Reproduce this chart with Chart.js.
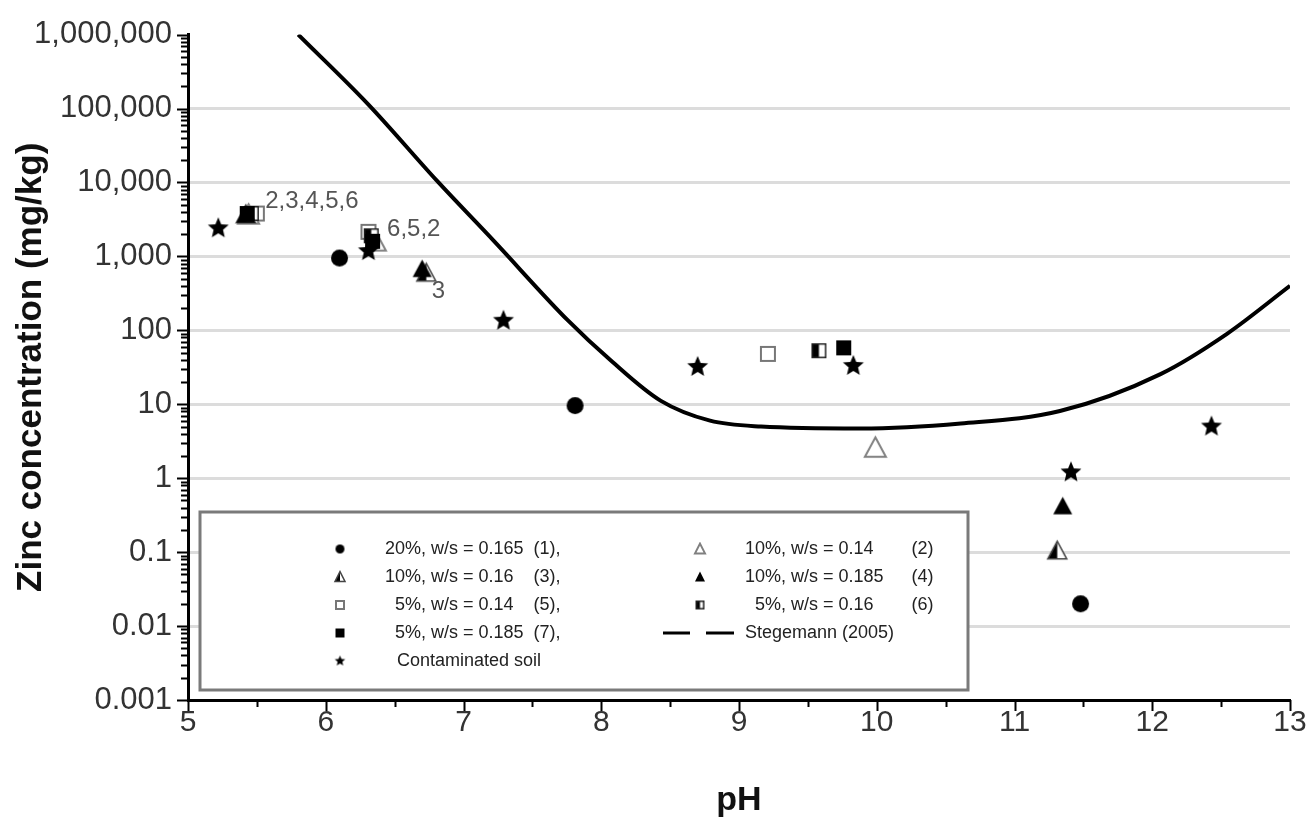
<!DOCTYPE html>
<html>
<head>
<meta charset="utf-8">
<script src="https://cdn.jsdelivr.net/npm/chart.js@4.4.1/dist/chart.umd.min.js"></script>
<style>
html, body { margin: 0; padding: 0; background: #fff; }
#wrap { width: 1312px; height: 831px; }
</style>
</head>
<body>
<div id="wrap"><canvas id="graph"></canvas></div>
<script>
// values (pH, zinc mg/kg)
const ph_1 = [6.1, 7.81, 11.48];
const zn_1 = [950, 9.6, 0.02];
const ph_2 = [5.44, 6.36, 9.99];
const zn_2 = [3700, 1600, 2.6];
const ph_3 = [5.42, 6.73, 11.31];
const zn_3 = [3700, 600, 0.105];
const ph_4 = [5.42, 6.7, 11.35];
const zn_4 = [3700, 680, 0.42];
const ph_5 = [5.5, 6.31, 9.21];
const zn_5 = [3800, 2150, 48];
const ph_6 = [5.46, 6.33, 9.58];
const zn_6 = [3800, 1900, 53];
const ph_7 = [5.43, 6.34, 9.76];
const zn_7 = [3800, 1600, 58];
const ph_soil = [5.22, 6.31, 7.29, 8.7, 9.83, 11.41, 12.43];
const zn_soil = [2400, 1180, 135, 32, 33, 1.2, 5.0];
const ph_steg = [5.8, 6.31, 6.81, 7.22, 7.76, 8.07, 8.43, 8.79, 9.16, 9.88, 10.61, 11.33, 12.06, 12.54, 13.0];
const zn_steg = [1000000, 113000, 10400, 1620, 135, 39, 11.2, 6.0, 5.0, 4.7, 5.5, 8.1, 25.6, 89, 400];

const yTicks = [0.001, 0.01, 0.1, 1, 10, 100, 1000, 10000, 100000, 1000000];
const yTickLabels = ['0.001', '0.01', '0.1', '1', '10', '100', '1,000', '10,000', '100,000', '1,000,000'];
const xTicks = [5, 6, 7, 8, 9, 10, 11, 12, 13];

const noteText = ['2,3,4,5,6', '6,5,2', '3'];
const notePh = [5.56, 6.445, 6.77];
const noteZn = [5570, 2330, 340];

const legendBody = ['20%, w/s = 0.165', '10%, w/s = 0.14', '10%, w/s = 0.16', '10%, w/s = 0.185',
  '5%, w/s = 0.14', '5%, w/s = 0.16', '5%, w/s = 0.185', 'Stegemann (2005)', 'Contaminated soil'];
const legendTag = ['(1),', '(2)', '(3),', '(4)', '(5),', '(6)', '(7),', '', ''];

// marker pictures
function makeMarker(kind, s) {
  const pad = 2;
  const c = document.createElement('canvas');
  c.width = c.height = Math.ceil(s + pad * 2);
  const g = c.getContext('2d');
  const m = c.width / 2, r = s / 2;
  const h = s * 0.88;
  const tri = () => {
    g.beginPath();
    g.moveTo(m, m - h / 2 - 1);
    g.lineTo(m + r, m + h / 2);
    g.lineTo(m - r, m + h / 2);
    g.closePath();
  };
  const sq = () => { g.beginPath(); g.rect(m - r, m - r, s, s); };
  if (kind == 'circle') {
    g.beginPath(); g.arc(m, m, r, 0, Math.PI * 2); g.fillStyle = '#000'; g.fill();
  } else if (kind == 'tri') {
    tri(); g.fillStyle = '#000'; g.fill();
  } else if (kind == 'triOpen') {
    tri(); g.fillStyle = '#fff'; g.fill(); g.strokeStyle = '#808080'; g.lineWidth = 2; g.stroke();
  } else if (kind == 'triHalf') {
    tri(); g.fillStyle = '#fff'; g.fill();
    g.save(); g.beginPath(); g.rect(0, 0, m, c.height); g.clip(); tri(); g.fillStyle = '#000'; g.fill(); g.restore();
    tri(); g.strokeStyle = '#444'; g.lineWidth = 1.5; g.stroke();
  } else if (kind == 'sq') {
    sq(); g.fillStyle = '#000'; g.fill();
  } else if (kind == 'sqOpen') {
    g.beginPath(); g.rect(m - r + 1, m - r + 1, s - 2, s - 2);
    g.fillStyle = '#fff'; g.fill(); g.strokeStyle = '#777'; g.lineWidth = 2; g.stroke();
  } else if (kind == 'sqHalf') {
    sq(); g.fillStyle = '#fff'; g.fill();
    g.fillStyle = '#000'; g.fillRect(m - r, m - r, s * 0.5, s);
    g.beginPath(); g.rect(m - r + 0.75, m - r + 0.75, s - 1.5, s - 1.5);
    g.strokeStyle = '#222'; g.lineWidth = 1.5; g.stroke();
  } else if (kind == 'star') {
    g.beginPath();
    for (let i = 0; i < 10; i++) {
      const a = -Math.PI / 2 + i * Math.PI / 5;
      const rr = i % 2 ? r * 0.45 : r;
      g.lineTo(m + rr * Math.cos(a), m + rr * Math.sin(a));
    }
    g.closePath(); g.fillStyle = '#000'; g.fill();
  }
  return c;
}

const kinds = ['circle', 'triOpen', 'triHalf', 'tri', 'sqOpen', 'sqHalf', 'sq', 'line', 'star'];
const plotSize = { circle: 17, triOpen: 21, triHalf: 19, tri: 19, sqOpen: 16, sqHalf: 15, sq: 15, star: 22 };
const legSize = { circle: 9, triOpen: 10, triHalf: 10, tri: 10, sqOpen: 10, sqHalf: 9, sq: 9, star: 11 };
// lower number is painted on top
const drawOrder = { circle: 1, triOpen: 4, triHalf: 3, tri: 2, sqOpen: 4, sqHalf: 3, sq: 2, star: 1 };

function pts(xs, ys) { return xs.map((x, i) => ({ x: x, y: ys[i] })); }

const series = [
  [ph_1, zn_1], [ph_2, zn_2], [ph_3, zn_3], [ph_4, zn_4],
  [ph_5, zn_5], [ph_6, zn_6], [ph_7, zn_7], null, [ph_soil, zn_soil]
];

const datasets = [];
series.forEach((sr, i) => {
  if (!sr) return;
  datasets.push({
    type: 'scatter',
    label: legendBody[i],
    data: pts(sr[0], sr[1]),
    pointStyle: makeMarker(kinds[i], plotSize[kinds[i]]),
    pointRadius: 9,
    order: drawOrder[kinds[i]]
  });
});
datasets.push({
  type: 'line',
  label: 'Stegemann (2005)',
  data: pts(ph_steg, zn_steg),
  borderColor: '#000',
  borderWidth: 4,
  pointRadius: 0,
  cubicInterpolationMode: 'monotone',
  fill: false,
  order: 6
});

const tickMarks = {
  id: 'tickMarks',
  afterDraw(chart) {
    const ctx = chart.ctx, x = chart.scales.x, y = chart.scales.y;
    const left = chart.chartArea.left, bottom = chart.chartArea.bottom;
    ctx.save();
    ctx.strokeStyle = '#000';
    ctx.lineWidth = 2;
    ctx.beginPath();
    for (let d = -3; d <= 6; d++) {
      for (let k = 1; k <= 9; k++) {
        const v = k * Math.pow(10, d);
        if (v > 1000000 * 1.001) break;
        const py = Math.round(y.getPixelForValue(v)) + 0.5;
        const len = k == 1 ? 11 : 7;
        ctx.moveTo(left - len, py); ctx.lineTo(left, py);
      }
    }
    for (let v = 5; v <= 13.001; v += 0.5) {
      const px = Math.round(x.getPixelForValue(v)) + 0.5;
      const len = Number.isInteger(v) ? 11 : 7;
      ctx.moveTo(px, bottom); ctx.lineTo(px, bottom + len);
    }
    ctx.stroke();
    ctx.restore();
  }
};

const notes = {
  id: 'notes',
  afterDatasetsDraw(chart) {
    const ctx = chart.ctx, x = chart.scales.x, y = chart.scales.y;
    ctx.save();
    ctx.font = '24px "Liberation Sans", Arial, sans-serif';
    ctx.fillStyle = '#555';
    ctx.textBaseline = 'middle';
    noteText.forEach((t, i) => {
      ctx.fillText(t, x.getPixelForValue(notePh[i]), y.getPixelForValue(noteZn[i]));
    });
    ctx.restore();
  }
};

const boxLegend = {
  id: 'boxLegend',
  afterDatasetsDraw(chart) {
    const ctx = chart.ctx, a = chart.chartArea;
    const bx = a.left + 12, by = 512, bw = 768, bh = 178;
    ctx.save();
    ctx.fillStyle = '#fff';
    ctx.fillRect(bx, by, bw, bh);
    ctx.strokeStyle = '#7a7a7a';
    ctx.lineWidth = 3;
    ctx.strokeRect(bx, by, bw, bh);
    ctx.font = '18px "Liberation Sans", Arial, sans-serif';
    ctx.fillStyle = '#222';
    ctx.textBaseline = 'middle';
    const digitW = ctx.measureText('0').width;
    const colMark = [bx + 140, bx + 500];
    const colText = [bx + 185, bx + 545];
    const tagGap = [
      ctx.measureText(legendBody[0] + '  ').width,
      ctx.measureText(legendBody[3] + '  ').width + 18
    ];
    legendBody.forEach((t, i) => {
      const col = i == 8 ? 0 : i % 2;
      const row = i == 8 ? 4 : Math.floor(i / 2);
      const cy = by + 37 + row * 28;
      if (kinds[i] == 'line') {
        ctx.beginPath();
        ctx.lineWidth = 3;
        ctx.strokeStyle = '#000';
        ctx.moveTo(colMark[col] - 37, cy); ctx.lineTo(colMark[col] - 10, cy);
        ctx.moveTo(colMark[col] + 6, cy); ctx.lineTo(colMark[col] + 34, cy);
        ctx.stroke();
      } else {
        const img = makeMarker(kinds[i], legSize[kinds[i]]);
        ctx.drawImage(img, colMark[col] - img.width / 2, cy - img.height / 2);
      }
      let tx = colText[col];
      if (t.startsWith('5%')) tx += digitW;
      if (i == 8) tx += 12;
      ctx.fillText(t, tx, cy);
      if (legendTag[i]) ctx.fillText(legendTag[i], colText[col] + tagGap[col], cy);
    });
    ctx.restore();
  }
};

new Chart(document.getElementById('graph'), {
  type: 'scatter',
  data: { datasets: datasets },
  options: {
    responsive: true,
    maintainAspectRatio: false,
    animation: false,
    layout: { padding: { left: 0, top: 33, right: 22, bottom: 0 } },
    plugins: {
      legend: { display: false },
      tooltip: { enabled: false }
    },
    scales: {
      x: {
        type: 'linear',
        min: 5,
        max: 13,
        afterBuildTicks: s => { s.ticks = xTicks.map(v => ({ value: v })); },
        afterFit: s => { s.height = 131; },
        ticks: {
          font: { family: '"Liberation Sans", Arial, sans-serif', size: 30 },
          color: '#333',
          padding: 5,
          maxRotation: 0
        },
        grid: { drawOnChartArea: false, drawTicks: false },
        border: { color: '#000', width: 3 },
        title: {
          display: true,
          text: 'pH',
          font: { family: '"Liberation Sans", Arial, sans-serif', size: 34, weight: 'bold' },
          color: '#111',
          padding: { top: 0, bottom: 10 }
        }
      },
      y: {
        type: 'logarithmic',
        min: 0.001,
        max: 1000000,
        afterBuildTicks: s => { s.ticks = yTicks.map(v => ({ value: v })); },
        afterFit: s => { s.width = 188; },
        ticks: {
          font: { family: '"Liberation Sans", Arial, sans-serif', size: 31 },
          color: '#333',
          padding: 16,
          callback: (v, i) => yTickLabels[i]
        },
        grid: {
          drawTicks: false,
          lineWidth: 3,
          color: c => (c.tick && c.tick.value >= 1000000) ? 'rgba(0,0,0,0)' : '#dcdcdc'
        },
        border: { color: '#000', width: 3 },
        title: {
          display: true,
          text: 'Zinc concentration (mg/kg)',
          font: { family: '"Liberation Sans", Arial, sans-serif', size: 35, weight: 'bold' },
          color: '#111',
          padding: { top: 10, bottom: 0 }
        }
      }
    }
  },
  plugins: [tickMarks, notes, boxLegend]
});
</script>
</body>
</html>
